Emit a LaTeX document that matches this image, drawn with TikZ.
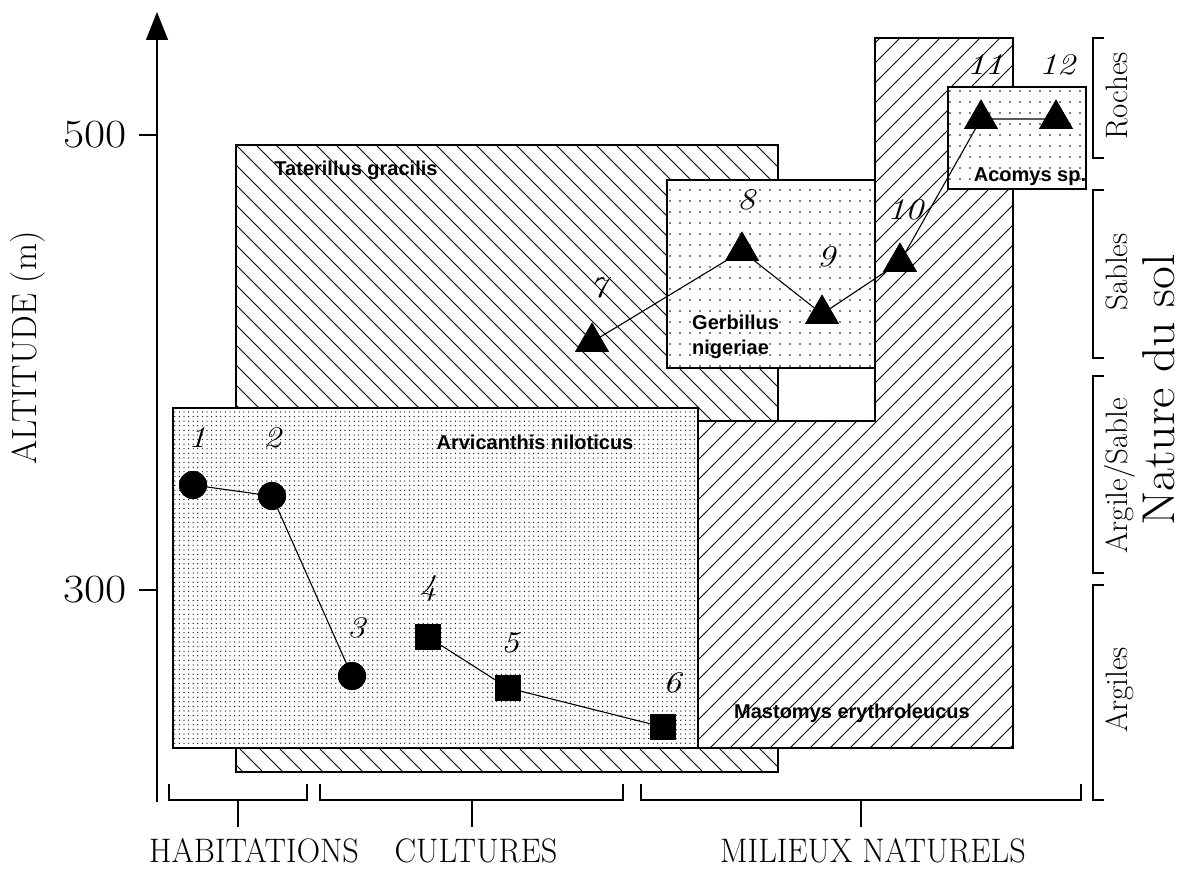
\documentclass[tikz,border=0pt]{standalone}
\usepackage{fontspec}
\usepackage{graphicx}
\newfontfamily\lsans{Liberation Sans}
\usetikzlibrary{arrows.meta,shapes.geometric,patterns}
\pgfdeclarepatternformonly{densedots}{\pgfqpoint{-1pt}{-1pt}}{\pgfqpoint{1pt}{1pt}}{\pgfqpoint{4.6pt}{4.6pt}}{\pgfpathcircle{\pgfpointorigin}{0.65pt}\pgfusepath{fill}}
\pgfdeclarepatternformonly{sparsedots}{\pgfqpoint{-1pt}{-1pt}}{\pgfqpoint{1pt}{1pt}}{\pgfqpoint{10pt}{11pt}}{\pgfpathcircle{\pgfpointorigin}{0.8pt}\pgfusepath{fill}}
\newcommand{\wide}[1]{\scalebox{1.2}[1]{#1}}
\begin{document}
\begin{tikzpicture}[x=1pt,y=-1pt,
  boxline/.style={line width=1.4pt},
  hatchline/.style={line width=0.9pt},
  conn/.style={line width=1.1pt},
  circmark/.style={circle,fill=black,minimum size=28pt,inner sep=0pt},
  sqmark/.style={rectangle,fill=black,minimum size=26pt,inner sep=0pt},
  trimark/.style={regular polygon,regular polygon sides=3,fill=black,minimum size=39pt,inner sep=0pt},
  numlab/.style={font=\fontsize{30}{32}\selectfont\itshape,inner sep=0pt},
  species/.style={font=\lsans\bfseries\fontsize{20}{24}\selectfont,inner sep=0pt},
  soil/.style={rotate=90,anchor=base,font=\fontsize{31}{34}\selectfont,inner sep=0pt},
  milieu/.style={anchor=base,font=\fontsize{34}{38}\selectfont,inner sep=0pt},
  ticklab/.style={font=\fontsize{40}{44}\selectfont,inner sep=0pt},
  bracket/.style={line width=1.2pt}]
\useasboundingbox (0,0) rectangle (1182,872);

% Taterillus gracilis (backslash hatching)
\fill[white] (236,145) rectangle (778,772);
\begin{scope}
\clip (236,145) rectangle (778,772);
\foreach \c in {-660,-640,...,560} \draw[hatchline] (236+\c,145) -- ++(700,700);
\end{scope}
\draw[boxline] (236,145) rectangle (778,772);

% Mastomys erythroleucus (slash hatching)
\fill[white] (698,421) -- (875,421) -- (875,38) -- (1013,38) -- (1013,748) -- (698,748) -- cycle;
\begin{scope}
\clip (698,421) -- (875,421) -- (875,38) -- (1013,38) -- (1013,748) -- (698,748) -- cycle;
\foreach \c in {700,720,...,1740} \draw[hatchline] (\c,38) -- ++(-720,720);
\end{scope}
\draw[boxline] (698,421) -- (875,421) -- (875,38) -- (1013,38) -- (1013,748) -- (698,748) -- cycle;

% Arvicanthis niloticus (dense dots)
\draw[boxline,preaction={fill=white},pattern=densedots] (173,408) rectangle (698,748);
% Gerbillus nigeriae
\draw[boxline,preaction={fill=white},pattern=sparsedots] (667,180) rectangle (875,368);
% Acomys sp.
\draw[boxline,preaction={fill=white},pattern=sparsedots] (948,87) rectangle (1086,189);

% species labels
\node[species] (tat) at (356,170) {Taterillus gracilis};
\node[species] (arv) at (535,442) {Arvicanthis niloticus};
\node[species,anchor=west] (ger1) at (692,322) {Gerbillus};
\node[species,anchor=west] (ger2) at (692,349) {nigeriae};
\node[species] (aco) at (1030,177) {Acomys sp.};
\node[species] (mas) at (852,713) {Mastomys erythroleucus};

% markers
\node[circmark] (m1) at (193,485) {};
\node[circmark] (m2) at (272,496) {};
\node[circmark] (m3) at (352,676) {};
\node[sqmark] (m4) at (428,637) {};
\node[sqmark] (m5) at (508,688) {};
\node[sqmark] (m6) at (663,727) {};
\node[trimark] (m7) at (592,342) {};
\node[trimark] (m8) at (742,251) {};
\node[trimark] (m9) at (822,314) {};
\node[trimark] (m10) at (900,262) {};
\node[trimark] (m11) at (981,119) {};
\node[trimark] (m12) at (1056,119) {};

% connectors
\draw[conn] (m1.center) -- (m2.center) -- (m3.center);
\draw[conn] (m4.center) -- (m5.center) -- (m6.center);
\draw[conn] (m7.center) -- (m8.center) -- (m9.center) -- (m10.center) -- (m11.center) -- (m12.center);
% redraw markers on top
\foreach \n in {m1,m2,m3} \fill (\n) circle (14pt);
\foreach \n in {m4,m5,m6} \fill ([shift={(-13pt,-13pt)}]\n) rectangle ([shift={(13pt,13pt)}]\n);
\node[trimark] at (m7) {};
\node[trimark] at (m8) {};
\node[trimark] at (m9) {};
\node[trimark] at (m10) {};
\node[trimark] at (m11) {};
\node[trimark] at (m12) {};

% number labels
\node[numlab] (l1) at (197,438) {\wide{1}};
\node[numlab] (l2) at (272,438) {\wide{2}};
\node[numlab] (l3) at (356,628) {\wide{3}};
\node[numlab] (l4) at (428,588) {\wide{4}};
\node[numlab] (l5) at (510,643) {\wide{5}};
\node[numlab] (l6) at (672,683) {\wide{6}};
\node[numlab] (l7) at (598,288) {\wide{7}};
\node[numlab] (l8) at (746,200) {\wide{8}};
\node[numlab] (l9) at (826,257) {\wide{9}};
\node[numlab] (l10) at (905,210) {\wide{10}};
\node[numlab] (l11) at (985,65) {\wide{11}};
\node[numlab] (l12) at (1057,65) {\wide{12}};

% y axis
\coordinate (axb) at (157,802);
\coordinate (axt) at (157,12);
\draw[line width=1.5pt,-{Triangle[length=28pt,width=22pt]}] (axb) -- (axt);
\draw[line width=1.3pt] (139,135) -- (157,135);
\draw[line width=1.3pt] (139,590) -- (157,590);
\node[ticklab] (t500) at (95,135) {\scalebox{1.15}[1]{500}};
\node[ticklab] (t300) at (95,590) {\scalebox{1.15}[1]{300}};
\node[rotate=90,anchor=base,font=\fontsize{35}{38}\selectfont,inner sep=0pt] (ylab) at (36,348) {ALTITUDE (m)};

% bottom brackets
\draw[bracket] (169,784) |- (307,800) -- (307,784);
\draw[bracket] (320,784) |- (623,800) -- (623,784);
\draw[bracket] (641,784) |- (1081,800) -- (1081,784);
\draw[bracket] (238,800) -- (238,827);
\draw[bracket] (472,800) -- (472,827);
\draw[bracket] (861,800) -- (861,827);
\node[milieu] (hab) at (254,862) {\scalebox{0.95}[1]{HABITATIONS}};
\node[milieu] (cul) at (476,862) {\scalebox{0.95}[1]{CULTURES}};
\node[milieu] (mil) at (873,862) {\scalebox{0.95}[1]{MILIEUX NATURELS}};

% right brackets
\draw[bracket] (1104,38) -| (1093,158) -- (1104,158);
\draw[bracket] (1104,190) -| (1093,358) -- (1104,358);
\draw[bracket] (1104,376) -| (1093,573) -- (1104,573);
\draw[bracket] (1104,585) -| (1093,800) -- (1104,800);
\node[soil] (roc) at (1127,96) {Roches};
\node[soil] (sab) at (1127,272) {Sables};
\node[soil] (ars) at (1127,476) {Argile/Sable};
\node[soil] (arg) at (1127,690) {Argiles};
\node[rotate=90,anchor=base,font=\fontsize{46}{50}\selectfont,inner sep=0pt] (nat) at (1174,390) {\scalebox{1.08}[1]{Nature du sol}};
\end{tikzpicture}
\end{document}
